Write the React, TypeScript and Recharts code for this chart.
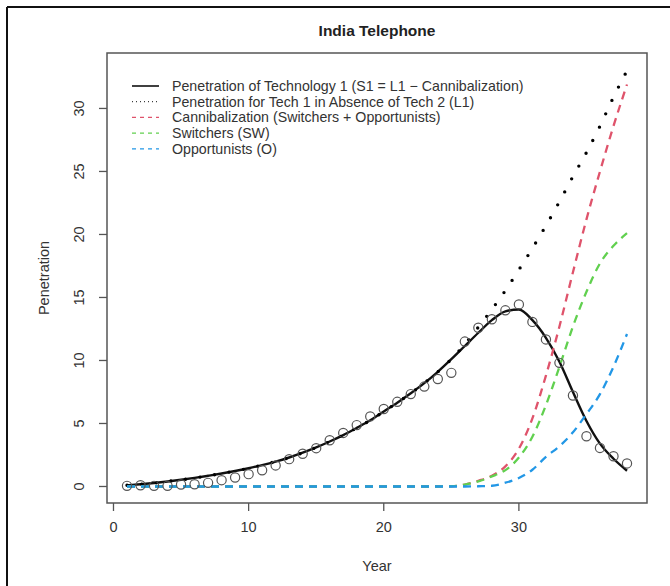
import { ComposedChart, Line, XAxis, YAxis, ReferenceArea } from "recharts";

// years 1..38
const YEARS = [
  1, 2, 3, 4, 5, 6, 7, 8, 9, 10, 11, 12, 13, 14, 15, 16, 17, 18, 19,
  20, 21, 22, 23, 24, 25, 26, 27, 28, 29, 30, 31, 32, 33, 34, 35, 36, 37, 38,
];

// observed penetration (open circles)
const OBSERVED = [
  0.05, 0.1, 0.05, 0.05, 0.16, 0.18, 0.29, 0.5, 0.71, 0.98, 1.29, 1.67, 2.17,
  2.6, 3.04, 3.67, 4.25, 4.87, 5.56, 6.15, 6.72, 7.33, 7.93, 8.53, 9.02,
  11.5, 12.6, 13.27, 13.98, 14.45, 13.06, 11.67, 9.81, 7.22, 3.99, 3.06, 2.4, 1.83,
];

// S1 = L1 - cannibalization (solid)
const S1 = [
  0.1, 0.18, 0.28, 0.4, 0.53, 0.68, 0.85, 1.03, 1.23, 1.45, 1.7, 1.98, 2.3,
  2.68, 3.1, 3.57, 4.08, 4.65, 5.25, 5.95, 6.65, 7.4, 8.2, 9.1, 10.1,
  11.15, 12.2, 13.2, 13.9, 14.05, 13.2, 11.8, 9.9, 7.5, 5.2, 3.4, 2.2, 1.25,
];

// L1, tech 1 without tech 2 (dotted)
const L1 = [
  0.1, 0.18, 0.28, 0.4, 0.53, 0.68, 0.85, 1.03, 1.23, 1.45, 1.7, 1.98, 2.3,
  2.68, 3.1, 3.57, 4.08, 4.65, 5.25, 5.95, 6.65, 7.4, 8.2, 9.1, 10.1,
  11.3, 12.65, 14.05, 15.55, 17.2, 18.9, 20.7, 22.6, 24.6, 26.5, 28.6, 30.9, 33.0,
];

const CANNIBALIZATION = [
  0, 0, 0, 0, 0, 0, 0, 0, 0, 0, 0, 0, 0, 0, 0, 0, 0, 0, 0, 0, 0, 0, 0, 0, 0.02,
  0.15, 0.45, 0.85, 1.6, 3.0, 5.4, 8.8, 12.7, 17.0, 21.2, 25.0, 28.6, 31.9,
];

const SWITCHERS = [
  0, 0, 0, 0, 0, 0, 0, 0, 0, 0, 0, 0, 0, 0, 0, 0, 0, 0, 0, 0, 0, 0, 0, 0, 0.02,
  0.15, 0.4, 0.8, 1.3, 2.3, 3.95, 6.45, 9.5, 12.7, 15.45, 17.7, 19.1, 20.1,
];

const OPPORTUNISTS = [
  0, 0, 0, 0, 0, 0, 0, 0, 0, 0, 0, 0, 0, 0, 0, 0, 0, 0, 0, 0, 0, 0, 0, 0, 0,
  0, 0.02, 0.06, 0.3, 0.68, 1.33, 2.35, 3.2, 4.3, 5.75, 7.33, 9.5, 12.1,
];

const X_TICKS = [0, 10, 20, 30];
const Y_TICKS = [0, 5, 10, 15, 20, 25, 30];

// R-style 4% padding around the data range
const XMIN = -0.48;
const XMAX = 39.48;
const YMIN = -1.31;
const YMAX = 34.4;

const LEGEND = [
  { label: "Penetration of Technology 1 (S1 = L1 \u2212 Cannibalization)", color: "#111", dash: "", width: 1.6 },
  { label: "Penetration for Tech 1 in Absence of Tech 2 (L1)", color: "#111", dash: "1 3", width: 1 },
  { label: "Cannibalization (Switchers + Opportunists)", color: "#DF536B", dash: "4 4", width: 1.2 },
  { label: "Switchers (SW)", color: "#61D04F", dash: "4 4", width: 1.2 },
  { label: "Opportunists (O)", color: "#2297E6", dash: "4 4", width: 1.2 },
];

const data = YEARS.map((year, i) => ({
  year,
  observed: OBSERVED[i],
  s1: S1[i],
  l1: L1[i],
  cannibal: CANNIBALIZATION[i],
  sw: SWITCHERS[i],
  o: OPPORTUNISTS[i],
}));

const FONT = "'Liberation Sans', Arial, sans-serif";

function YTick({ x, y, payload }: { x: number; y: number; payload: { value: number } }) {
  return (
    <text
      x={x}
      y={y}
      transform={`rotate(-90 ${x} ${y})`}
      textAnchor="middle"
      dominantBaseline="central"
      fontSize={14.5}
      fontFamily={FONT}
      fill="#333"
    >
      {payload.value}
    </text>
  );
}

export default function App() {
  return (
    <div style={{ position: "absolute", left: 0, top: 0, width: 670, height: 586, background: "#fff" }}>
      <ComposedChart
        width={670}
        height={586}
        data={data}
        margin={{ top: 53, right: 23, bottom: 0, left: 0 }}
      >
        <XAxis
          dataKey="year"
          type="number"
          domain={[XMIN, XMAX]}
          ticks={X_TICKS}
          height={83}
          axisLine={false}
          tickLine={{ stroke: "#555", strokeWidth: 1.3 }}
          tickSize={8}
          tickMargin={11}
          tick={{ fontSize: 14.5, fontFamily: FONT, fill: "#333" }}
        />
        <YAxis
          type="number"
          domain={[YMIN, YMAX]}
          ticks={Y_TICKS}
          width={107}
          axisLine={false}
          tickLine={{ stroke: "#555", strokeWidth: 1.3 }}
          tickSize={8}
          tickMargin={20}
          tick={YTick}
        />
        <ReferenceArea
          x1={XMIN}
          x2={XMAX}
          y1={YMIN}
          y2={YMAX}
          fill="none"
          stroke="#555"
          strokeWidth={1.5}
        />
        <Line
          dataKey="observed"
          stroke="none"
          dot={{ r: 4.6, fill: "none", stroke: "#555", strokeWidth: 1.2 }}
          activeDot={false}
          isAnimationActive={false}
        />
        <Line
          dataKey="s1"
          type="monotone"
          stroke="#111"
          strokeWidth={2.4}
          dot={false}
          activeDot={false}
          isAnimationActive={false}
        />
        <Line
          dataKey="l1"
          type="monotone"
          stroke="#000"
          strokeWidth={3.4}
          strokeDasharray="0 14.7"
          strokeLinecap="round"
          dot={false}
          activeDot={false}
          isAnimationActive={false}
        />
        <Line
          dataKey="cannibal"
          type="monotone"
          stroke="#DF536B"
          strokeWidth={2.3}
          strokeDasharray="8 6"
          dot={false}
          activeDot={false}
          isAnimationActive={false}
        />
        <Line
          dataKey="sw"
          type="monotone"
          stroke="#61D04F"
          strokeWidth={2.3}
          strokeDasharray="8 6"
          dot={false}
          activeDot={false}
          isAnimationActive={false}
        />
        <Line
          dataKey="o"
          type="monotone"
          stroke="#2297E6"
          strokeWidth={2.3}
          strokeDasharray="8 6"
          dot={false}
          activeDot={false}
          isAnimationActive={false}
        />
      </ComposedChart>

      {/* titles, legend and page frame */}
      <svg
        width={670}
        height={586}
        style={{ position: "absolute", left: 0, top: 0, pointerEvents: "none" }}
        fontFamily={FONT}
      >
        <line x1={7} y1={7} x2={670} y2={7} stroke="#111" strokeWidth={2} />
        <line x1={7} y1={7} x2={7} y2={586} stroke="#111" strokeWidth={2} />
        <text x={377} y={36} textAnchor="middle" fontSize={15.5} fontWeight="bold" fill="#222">
          India Telephone
        </text>
        <text x={377} y={571} textAnchor="middle" fontSize={14.5} fill="#333">
          Year
        </text>
        <text
          x={44}
          y={278}
          transform="rotate(-90 44 278)"
          textAnchor="middle"
          dominantBaseline="central"
          fontSize={14.5}
          fill="#333"
        >
          Penetration
        </text>
        {LEGEND.map((item, i) => {
          const cy = 86 + i * 15.7;
          return (
            <g key={item.label}>
              <line
                x1={132}
                x2={159}
                y1={cy}
                y2={cy}
                stroke={item.color}
                strokeWidth={item.width}
                strokeDasharray={item.dash || undefined}
              />
              <text x={172} y={cy} dominantBaseline="central" fontSize={14.2} fill="#333">
                {item.label}
              </text>
            </g>
          );
        })}
      </svg>
    </div>
  );
}
